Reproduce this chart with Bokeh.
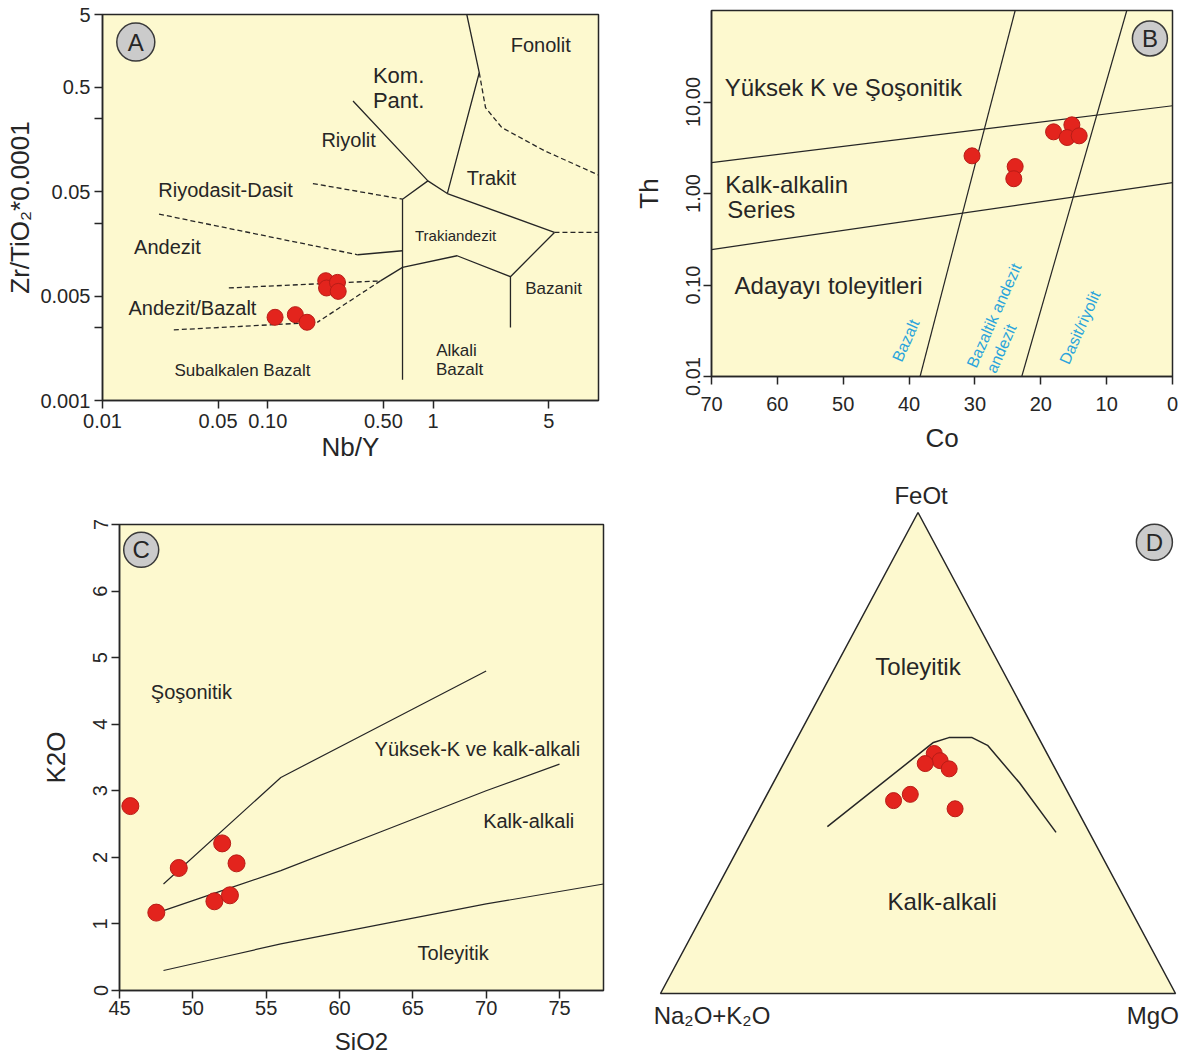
import math
from bokeh.plotting import figure
from bokeh.models import FixedTicker, Range1d
from bokeh.layouts import row, column
from bokeh.core.properties import value
from bokeh.embed import file_html
from bokeh.resources import INLINE

# ---------------- Panel A: Nb/Y vs Zr/TiO2*0.0001 ----------------
a_nby = [0.1106, 0.1467, 0.1726, 0.224, 0.2265, 0.2637, 0.2665]
a_zrti = [0.00627, 0.00665, 0.00562, 0.01406, 0.01197, 0.01355, 0.01111]
a_x_ticks = [0.01, 0.05, 0.1, 0.5, 1, 5]
a_x_tick_labels = ["0.01", "0.05", "0.10", "0.50", "1", "5"]
a_y_ticks = [0.001, 0.01, 0.1, 1, 5]
a_y_tick_labels = ["0.001", "0.005", "0.05", "0.5", "5"]
a_y_minor = [0.005, 0.05, 0.5]
a_solid = [
    ([1.597, 1.90, 1.218], [5, 1.384, 0.0962]),
    ([0.3275, 0.929, 1.218], [0.741, 0.1272, 0.0962]),
    ([1.218, 5.415], [0.0962, 0.0408]),
    ([0.929, 0.6526, 0.6526], [0.1272, 0.0850, 0.001577]),
    ([0.6526, 1.395, 2.934, 5.415], [0.01886, 0.02438, 0.01535, 0.0408]),
    ([2.934, 2.934], [0.01535, 0.005007]),
    ([0.3497, 0.6526], [0.02492, 0.02723]),
    ([0.6526, 0.48], [0.01886, 0.0140]),
]
a_dashed = [
    ([1.90, 2.073, 2.603, 4.73, 10], [1.384, 0.640, 0.412, 0.2464, 0.145]),
    ([5.415, 10], [0.0408, 0.0408]),
    ([0.1873, 0.6526], [0.12, 0.0850]),
    ([0.02197, 0.3497], [0.0611, 0.02492]),
    ([0.0581, 0.48], [0.01198, 0.0140]),
    ([0.48, 0.199], [0.0140, 0.00561]),
    ([0.027, 0.199], [0.00475, 0.00561]),
]
a_labels = ["Fonolit", "Kom.", "Pant.", "Riyolit", "Trakit", "Riyodasit-Dasit", "Trakiandezit",
            "Andezit", "Bazanit", "Andezit/Bazalt", "Alkali", "Bazalt", "Subalkalen Bazalt"]
a_label_x = [4.47, 0.618, 0.618, 0.308, 2.25, 0.0555, 1.366, 0.0247, 5.35, 0.035, 1.385, 1.445, 0.0703]
a_label_y = [2.55, 1.29, 0.743, 0.315, 0.136, 0.1045, 0.0379, 0.0298, 0.0118, 0.00776, 0.0030, 0.00198, 0.001937]
a_label_size = ["20px", "22px", "22px", "20px", "20px", "20px", "15px", "20px", "17px", "20px", "17px", "17px", "17px"]

# ---------------- Panel B: Co vs Th ----------------
b_co = [30.44, 23.89, 24.1, 18.06, 15.28, 16.0, 14.17]
b_th = [2.58, 1.97, 1.45, 4.72, 5.63, 4.09, 4.27]
b_y_ticks = [0.01, 0.1, 1, 10]
b_y_tick_labels = ["0.01", "0.10", "1.00", "10.00"]
b_x_ticks = [70, 60, 50, 40, 30, 20, 10, 0]
b_lines = [
    ([70, 0], [2.18, 9.10]),
    ([70, 0], [0.244, 1.314]),
    ([38.33, 23.89], [0.01, 100]),
    ([22.89, 6.94], [0.01, 100]),
]
b_labels = ["Yüksek K ve Şoşonitik", "Kalk-alkalin", "Series", "Adayayı toleyitleri"]
b_label_x = [68.0, 67.9, 67.6, 66.5]
b_label_y = [14.4, 1.25, 0.668, 0.0987]
b_rock_labels = ["Bazalt", "Bazaltik andezit", "andezit", "Dasit/riyolit"]
b_rock_x = [40.5, 27.1, 26.0, 14.07]
b_rock_y = [0.0247, 0.0464, 0.0202, 0.0343]

# ---------------- Panel C: SiO2 vs K2O ----------------
c_sio2 = [45.74, 47.51, 49.04, 51.47, 52.0, 52.53, 52.98]
c_k2o = [2.77, 1.17, 1.84, 1.34, 2.21, 1.43, 1.91]
c_shosh_x = [48, 56, 63, 70]
c_shosh_y = [1.6, 3.2, 4.0, 4.8]
c_highk_x = [48, 52, 56, 63, 70, 75]
c_highk_y = [1.2, 1.5, 1.8, 2.4, 3.0, 3.4]
c_thol_x = [48, 52, 56, 63, 70, 78]
c_thol_y = [0.3, 0.5, 0.7, 1.0, 1.3, 1.6]
c_labels = ["Şoşonitik", "Yüksek-K ve kalk-alkali", "Kalk-alkali", "Toleyitik"]
c_label_x = [49.9, 69.4, 72.9, 67.75]
c_label_y = [4.49, 3.63, 2.545, 0.556]

# ---------------- Panel D: AFM ternary (Na2O+K2O, FeOt, MgO) ----------------
d_alk = [21.9, 21.5, 24.7, 20.6, 30.8, 34.7, 23.6]
d_feot = [49.9, 48.4, 47.8, 46.7, 41.4, 40.1, 38.4]
d_mgo = [28.2, 30.1, 27.5, 32.7, 27.8, 25.2, 38.0]
d_bound_alk = [50.25, 20.9, 17.4, 12.9, 10.7, 8.4, 6.45]
d_bound_feot = [34.7, 52.2, 53.2, 53.2, 51.6, 43.8, 33.5]
d_bound_mgo = [15.05, 26.9, 29.4, 33.9, 37.7, 47.8, 60.05]

FONT = "Liberation Sans"
YELLOW = "#fdf9cf"
RED = "#e3241d"
RED_EDGE = "#b81d17"
INK = "#262626"
BLUE = "#2aa4dc"
BADGE = "#cbcbcb"


def make_fig(width, height, x_range, y_range, x_type, y_type, mb):
    p = figure(width=width, height=height, x_range=x_range, y_range=y_range,
               x_axis_type=x_type, y_axis_type=y_type, output_backend="svg",
               toolbar_location=None, min_border_left=mb[0], min_border_right=mb[1],
               min_border_top=mb[2], min_border_bottom=mb[3])
    p.background_fill_color = YELLOW
    p.border_fill_color = "white"
    p.outline_line_color = INK
    p.outline_line_width = 1.5
    p.grid.visible = False
    for ax in p.axis:
        ax.axis_line_color = INK
        ax.axis_line_width = 1.5
        ax.major_tick_line_color = INK
        ax.major_tick_line_width = 1.5
        ax.major_tick_out = 8
        ax.major_tick_in = 0
        ax.minor_tick_line_color = None
        ax.major_label_text_font = FONT
        ax.major_label_text_font_size = "20px"
        ax.major_label_text_color = INK
        ax.axis_label_text_font = FONT
        ax.axis_label_text_font_style = "normal"
        ax.axis_label_text_font_size = "26px"
        ax.axis_label_text_color = INK
    return p


def add_text(p, xs, ys, texts, size, color=INK, align="center", angle=0.0):
    p.text(x=xs, y=ys, text=texts, text_font=value(FONT), text_font_size=size,
           text_color=color, text_align=align, text_baseline="middle", angle=angle)


def add_badge(p, x, y, letter, size=36):
    p.scatter(x=[x], y=[y], marker="circle", size=size, fill_color=BADGE,
              line_color="#3a3a3a", line_width=1.5)
    add_text(p, [x], [y], [letter], value("24px"))


def add_points(p, xs, ys, size=15):
    p.scatter(x=xs, y=ys, marker="circle", size=size, fill_color=RED,
              line_color=RED_EDGE, line_width=1)


# ---------- A ----------
pA = make_fig(620, 478, Range1d(0.01, 10), Range1d(0.001, 5), "log", "log", (102, 22, 14, 78))
pA.xaxis.ticker = FixedTicker(ticks=a_x_ticks)
pA.xaxis.major_label_overrides = dict(zip(a_x_ticks, a_x_tick_labels))
pA.yaxis.ticker = FixedTicker(ticks=a_y_ticks, minor_ticks=a_y_minor)
pA.yaxis.major_label_overrides = dict(zip(a_y_ticks, a_y_tick_labels))
pA.yaxis.minor_tick_line_color = INK
pA.yaxis.minor_tick_line_width = 1.5
pA.yaxis.minor_tick_out = 8
pA.yaxis.minor_tick_in = 0
pA.xaxis.axis_label = "Nb/Y"
pA.yaxis.axis_label = "Zr/TiO\u2082*0.0001"
pA.xaxis.major_label_standoff = 5
pA.xaxis.axis_label_standoff = 1
pA.yaxis.major_label_standoff = 4
pA.yaxis.axis_label_standoff = 2
for xs, ys in a_solid:
    pA.line(xs, ys, line_color=INK, line_width=1.3)
for xs, ys in a_dashed:
    pA.line(xs, ys, line_color=INK, line_width=1.3, line_dash="5 3")
for t, x, y, s in zip(a_labels, a_label_x, a_label_y, a_label_size):
    add_text(pA, [x], [y], [t], value(s))
add_points(pA, a_nby, a_zrti, 16)
add_badge(pA, 0.0159, 2.72, "A", 38)

# ---------- B ----------
pB = make_fig(565, 478, Range1d(70, 0), Range1d(0.01, 100), "linear", "log", (91, 13, 10, 102))
pB.xaxis.ticker = FixedTicker(ticks=b_x_ticks)
pB.yaxis.ticker = FixedTicker(ticks=b_y_ticks)
pB.yaxis.major_label_overrides = dict(zip(b_y_ticks, b_y_tick_labels))
pB.yaxis.major_label_orientation = "vertical"
pB.xaxis.axis_label = "Co"
pB.yaxis.axis_label = "Th"
pB.xaxis.major_label_standoff = 12
pB.xaxis.axis_label_standoff = 9
pB.yaxis.major_label_standoff = 4
pB.yaxis.axis_label_standoff = 19
for xs, ys in b_lines:
    pB.line(xs, ys, line_color=INK, line_width=1.2)
add_text(pB, b_label_x, b_label_y, b_labels, value("24px"), align="left")
add_text(pB, b_rock_x, b_rock_y, b_rock_labels, value("16px"), color=BLUE, angle=math.radians(66))
add_points(pB, b_co, b_th, 16)
add_badge(pB, 3.43, 49.4, "B", 35)

# ---------- C ----------
pC = make_fig(620, 583, Range1d(45, 78), Range1d(0, 7), "linear", "linear", (119, 17, 46, 71))
pC.xaxis.ticker = FixedTicker(ticks=[45, 50, 55, 60, 65, 70, 75])
pC.yaxis.ticker = FixedTicker(ticks=[0, 1, 2, 3, 4, 5, 6, 7])
pC.yaxis.major_label_orientation = "vertical"
pC.xaxis.axis_label = "SiO2"
pC.yaxis.axis_label = "K2O"
pC.xaxis.axis_label_text_font_size = "24px"
pC.xaxis.major_label_standoff = 2
pC.xaxis.axis_label_standoff = 10
pC.yaxis.major_label_standoff = 4
pC.yaxis.axis_label_standoff = 20
pC.line(c_shosh_x, c_shosh_y, line_color=INK, line_width=1.2)
pC.line(c_highk_x, c_highk_y, line_color=INK, line_width=1.2)
pC.line(c_thol_x, c_thol_y, line_color=INK, line_width=1.2)
add_text(pC, c_label_x, c_label_y, c_labels, value("20px"))
add_points(pC, c_sio2, c_k2o, 17)
add_badge(pC, 46.48, 6.62, "C", 35)

# ---------- D ----------
pD = figure(width=565, height=583, x_range=Range1d(-0.0777, 1.0194), y_range=Range1d(-0.1414, 1.0707),
            output_backend="svg", toolbar_location=None, x_axis_location=None, y_axis_location=None,
            min_border_left=0, min_border_right=0, min_border_top=0, min_border_bottom=0)
pD.grid.visible = False
pD.outline_line_color = None
pD.background_fill_color = "white"
pD.border_fill_color = "white"


def tern(alk, feo, mgo):
    xs, ys = [], []
    for a, f, m in zip(alk, feo, mgo):
        s = a + f + m
        xs.append((m + f / 2.0) / s)
        ys.append(f / s)
    return xs, ys


tri_x, tri_y = tern([100, 0, 0], [0, 0, 100], [0, 100, 0])
pD.patch(tri_x, tri_y, fill_color=YELLOW, line_color=INK, line_width=1.5)
bx, by = tern(d_bound_alk, d_bound_feot, d_bound_mgo)
pD.line(bx, by, line_color=INK, line_width=1.5)
px_, py_ = tern(d_alk, d_feot, d_mgo)
add_points(pD, px_, py_, 16)
add_text(pD, [0.506], [1.035], ["FeOt"], value("24px"))
add_text(pD, [0.100], [-0.045], ["Na\u2082O+K\u2082O"], value("24px"))
add_text(pD, [0.956], [-0.045], ["MgO"], value("24px"))
add_text(pD, [0.500], [0.680], ["Toleyitik"], value("24px"))
add_text(pD, [0.547], [0.191], ["Kalk-alkali"], value("24px"))
add_badge(pD, 0.959, 0.938, "D", 36)

layout = column(row(column(pA), column(pB)), row(column(pC), column(pD)))
open("out.html", "w").write(file_html(layout, INLINE))
